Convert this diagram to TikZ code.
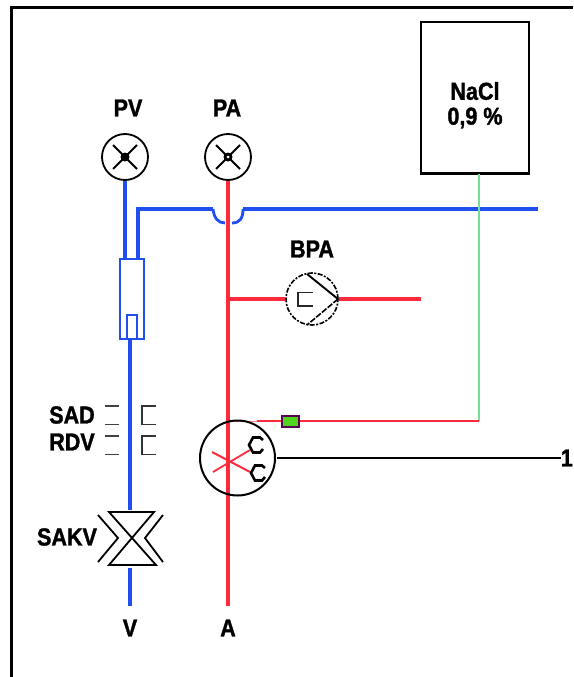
\documentclass[tikz,border=0pt]{standalone}
\usepackage{fontspec}
\setmainfont{Liberation Sans}[BoldFeatures={FakeBold=1.4,FakeStretch=0.88}]
\definecolor{bl}{HTML}{1F4FEF}
\definecolor{rd}{HTML}{FF2B3C}
\definecolor{gr}{HTML}{74E096}
\definecolor{gb}{HTML}{52D41E}
\tikzset{
  lab/.style={font=\fontsize{24.5}{26}\selectfont\bfseries,inner sep=0pt,text=black},
  gauge/.style={circle,draw=black,line width=1.8pt,minimum size=46pt,inner sep=0pt},
  bline/.style={draw=bl,line width=3.3pt},
  rline/.style={draw=rd,line width=3.2pt},
  thinr/.style={draw=rd,line width=1.8pt},
  tick/.style={draw=black!75,line width=1.4pt},
}
\begin{document}
\begin{tikzpicture}[x=1pt,y=-1pt]
\useasboundingbox (0,0) rectangle (573,677);
\fill[white] (0,0) rectangle (573,677);
% frame
\coordinate (fa) at (11.5,677);
\coordinate (fb) at (11.5,7.5);
\coordinate (fc) at (573,7.5);
\draw[black,line width=3.2pt,line join=miter] (fa) -- (fb) -- (fc);
% nodes
\node[gauge] (pv) at (125,157) {};
\node[gauge] (pa) at (228,157) {};
\node[circle,draw=black,line width=1.6pt,dash pattern=on 5pt off 1.5pt on 2pt off 1.5pt,minimum size=52pt,inner sep=0pt] (bpa) at (312,299) {};
\node[circle,minimum size=75pt,inner sep=0pt] (cut) at (237.5,458) {};
\node[rectangle,draw=black,line width=1.8pt,minimum width=108pt,minimum height=151pt,inner sep=0pt] (nacl) at (475,97.5) {};
\node[rectangle,draw=bl,line width=1.9pt,minimum width=24pt,minimum height=80pt,inner sep=0pt] (dial) at (132,299) {};
\draw[black,line width=2.8pt] (nacl.south west) -- (nacl.south east);
% labels
\node[lab] at (128,108) {PV};
\node[lab] at (227,108) {PA};
\node[lab] at (312,249) {BPA};
\node[lab] at (475,91) {NaCl};
\node[lab] at (475,118) {0,9~\%};
\node[lab] at (72,415) {SAD};
\node[lab] at (72,442) {RDV};
\node[lab] at (67,537) {SAKV};
\node[lab] (vlab) at (130,628) {V};
\node[lab] (alab) at (228,628) {A};
\node[lab,anchor=east] (one) at (573,458) {1};
% green supply
\coordinate (gj) at (479,421);
\coordinate (nb) at (479,174);
% blue
\coordinate (b1) at (138,259);
\coordinate (b2) at (138,209);
\coordinate (b3) at (213,209);
\coordinate (b4) at (225,223);
\coordinate (b5) at (232,223);
\coordinate (b6) at (243,209);
\coordinate (b7) at (538,209);
\coordinate (pvd) at (125,259);
\draw[bline] (pv.south -| pvd) -- (pvd);
\draw[bline,line join=miter] (b1) -- (b2) -- (b3);
\draw[draw=bl,line width=2.8pt] (b3) .. controls (214,218) and (218,223) .. (b4);
\draw[draw=bl,line width=2.8pt] (b5) .. controls (240,223) and (243,218) .. (b6);
\draw[bline] (b6) -- (b7);
\draw[draw=gr,line width=1.8pt] (nb) -- (gj);
% inner box and venous line
\node[rectangle,draw=bl,line width=1.8pt,minimum width=10pt,minimum height=24pt,inner sep=0pt] (inner) at (132,327) {};
\coordinate (vt) at (130,339);
\coordinate (vm) at (130,510);
\coordinate (vb1) at (130,568);
\coordinate (vb2) at (130,606);
\draw[bline] (vt) -- (vm);
\draw[bline] (vb1) -- (vb2);
% red
\coordinate (rj) at (228,299);
\coordinate (rb) at (228,606);
\draw[rline] (pa.south) -- (rb);
\draw[rline] (rj) -- (bpa.west);
\coordinate (ro) at (421,299);
\draw[rline] (bpa.east) -- (ro);
\coordinate (ct) at (228,421);
\draw[draw=rd!60,line width=1pt] (ct) -- (257,421);
\draw[thinr] (257,421) -- (gj);
\node[rectangle,draw=violet!70!black,fill=gb,line width=1.2pt,minimum width=17pt,minimum height=11pt,inner sep=0pt] (clamp) at (290.5,421.5) {};
% gauges crosses
\foreach \n/\c in {pv/125,pa/228}{
  \draw[black,line width=2pt] (\c-12,145) -- (\c+12,169);
  \draw[black,line width=2pt] (\c+12,145) -- (\c-12,169);
  \fill[black] (\c,157) circle (4.5pt);
}
\fill[white] (228,157) circle (1.5pt);
% BPA symbol
\coordinate (apex) at (338,299);
\draw[black,line width=1.9pt] (307,274) -- (apex);
\draw[black,line width=1.6pt,dash pattern=on 6pt off 1.5pt] (apex) -- (307,325);
\draw[black!85,line width=1.7pt] (313,292.5) -- (298,292.5) -- (298,306) -- (313,306);
% SAD / RDV clamps
\foreach \a/\b in {406/424.5,436/454.5}{
  \draw[tick] (105,\a) -- (119,\a);
  \draw[tick] (105,\b) -- (119,\b);
  \draw[black!80,line width=1.6pt] (156,\a) -- (142,\a) -- (142,\b) -- (156,\b);
}
% SAKV
\draw[black,line width=1.8pt] (109,512) -- (154,512) -- (109,565) -- (156,565) -- cycle;
\draw[black,line width=1.8pt] (98,515) -- (118,538) -- (98,562);
\draw[black,line width=1.8pt] (163,515) -- (145,538) -- (163,562);
% clamp symbol
\draw[rd,line width=2pt] (212,452) -- (250,472);
\draw[rd,line width=1.8pt] (213,472) -- (250,450);
\draw[black,line width=2.6pt] (263,440) -- (260,437.5) -- (253,437.5) -- (249,445) -- (253,452.5) -- (260,452.5) -- (263,449);
\draw[black,line width=2.6pt] (265,468) -- (262,465.5) -- (255,465.5) -- (251,473) -- (255,480.5) -- (262,480.5) -- (265,477);
\draw[black,line width=2pt] (cut) circle (37.5pt);
\draw[black,line width=2pt] (cut.east) ++(2,0) -- (one.west);
\end{tikzpicture}
\end{document}
